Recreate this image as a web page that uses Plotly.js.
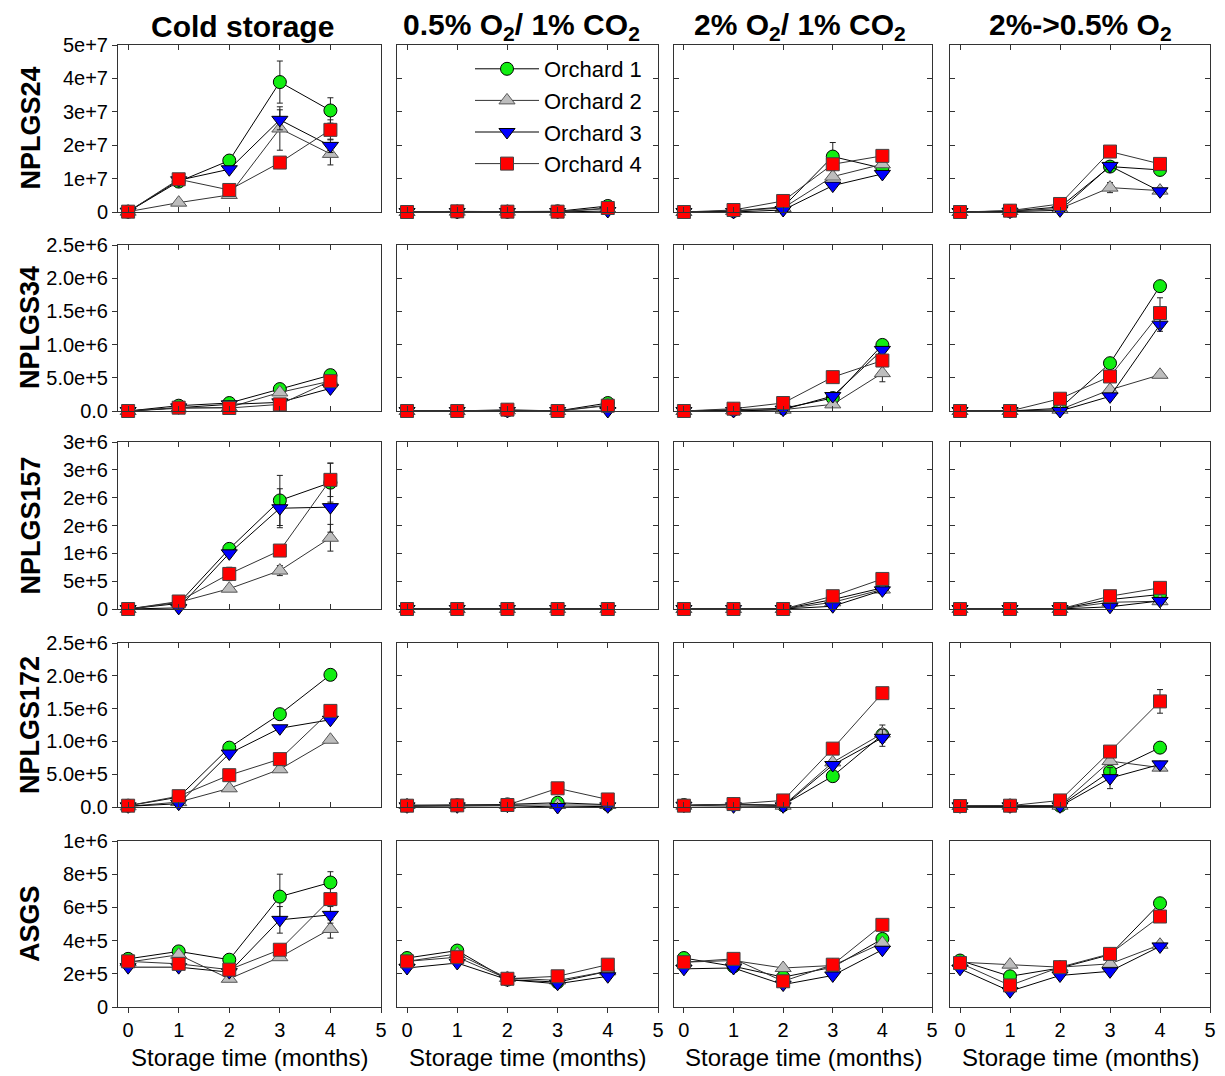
<!DOCTYPE html>
<html>
<head>
<meta charset="utf-8">
<script src="https://cdn.plot.ly/plotly-3.0.1.min.js"></script>
<style>html,body{margin:0;padding:0;background:#fff;}#chart{width:1225px;height:1076px;}</style>
</head>
<body>
<div id="chart"></div>
<script>
// ---------- DATA ----------
const months = [0, 1, 2, 3, 4];
const orchards = ['Orchard 1', 'Orchard 2', 'Orchard 3', 'Orchard 4'];
const treatments = ['<b>Cold storage</b>', '<b>0.5% O<sub>2</sub>/ 1% CO<sub>2</sub></b>', '<b>2% O<sub>2</sub>/ 1% CO<sub>2</sub></b>', '<b>2%->0.5% O<sub>2</sub></b>'];
const genes = ['NPLGS24', 'NPLGS34', 'NPLGS157', 'NPLGS172', 'ASGS'];
const xTickLabels = ['0', '1', '2', '3', '4', '5'];

// y tick values/labels per gene row
const yTicks24 = [0, 1e7, 2e7, 3e7, 4e7, 5e7];
const yText24 = ['0', '1e+7', '2e+7', '3e+7', '4e+7', '5e+7'];
const yTicks34 = [0, 5e5, 1e6, 1.5e6, 2e6, 2.5e6];
const yText34 = ['0.0', '5.0e+5', '1.0e+6', '1.5e+6', '2.0e+6', '2.5e+6'];
const yTicks157 = [0, 5e5, 1e6, 1.5e6, 2e6, 2.5e6, 3e6];
const yText157 = ['0', '5e+5', '1e+6', '2e+6', '2e+6', '3e+6', '3e+6'];
const yTicks172 = [0, 5e5, 1e6, 1.5e6, 2e6, 2.5e6];
const yText172 = ['0.0', '5.0e+5', '1.0e+6', '1.5e+6', '2.0e+6', '2.5e+6'];
const yTicksASGS = [0, 2e5, 4e5, 6e5, 8e5, 1e6];
const yTextASGS = ['0', '2e+5', '4e+5', '6e+5', '8e+5', '1e+6'];

// values: each array = [Orchard1, Orchard2, Orchard3, Orchard4]
const nplgs24_cold = [[1e5, 9.1e6, 1.54e7, 3.89e7, 3.04e7], [1e5, 2.8e6, 5.1e6, 2.5e7, 1.74e7], [1e5, 9.5e6, 1.28e7, 2.76e7, 1.98e7], [1e5, 9.8e6, 6.6e6, 1.48e7, 2.46e7]];
const nplgs24_cold_err = [[0, 0, 8e5, 6.3e6, 3.8e6], [0, 0, 5e5, 6.5e6, 3.3e6], [0, 0, 0, 3e6, 2e6], [0, 0, 1e6, 0, 3e6]];
const nplgs24_low = [[0, 1e5, 1e5, 2e5, 1.8e6], [0, 1e5, 1e5, 1e5, 1.0e6], [0, 0, 0, 0, 3e5], [0, 2e5, 1e5, 1e5, 1.2e6]];
const nplgs24_mid = [[0, 3e5, 1.5e6, 1.66e7, 1.31e7], [0, 3e5, 1.2e6, 1.06e7, 1.43e7], [0, 0, 6e5, 7.9e6, 1.14e7], [0, 6e5, 3.3e6, 1.43e7, 1.68e7]];
const nplgs24_mid_err = [[0, 0, 0, 4.2e6, 0], [0, 0, 0, 0, 1e6], [0, 0, 0, 0, 0], [0, 0, 0, 0, 0]];
const nplgs24_step = [[0, 3e5, 1.5e6, 1.36e7, 1.26e7], [0, 3e5, 1e6, 7.3e6, 6.4e6], [0, 1e5, 5e5, 1.38e7, 6.2e6], [0, 4e5, 2.4e6, 1.81e7, 1.44e7]];
const nplgs24_step_err = [[0, 0, 0, 0, 0], [0, 0, 0, 1.5e6, 8e5], [0, 0, 0, 0, 0], [0, 0, 0, 0, 1.5e6]];

const nplgs34_cold = [[0, 8e4, 1.2e5, 3.3e5, 5.4e5], [0, 4e4, 5.5e4, 2.8e5, 4.5e5], [0, 5.5e4, 1.0e5, 1.3e5, 3.4e5], [0, 5e4, 4.5e4, 1.0e5, 4.5e5]];
const nplgs34_low = [[0, 0, 1e4, 0, 1.2e5], [0, 0, 1e4, 0, 9e4], [0, 0, 0, 0, 0], [0, 0, 2e4, 0, 8e4]];
const nplgs34_mid = [[0, 2e4, 4e4, 1.95e5, 9.95e5], [0, 1e4, 2e4, 1.0e5, 5.7e5], [0, 0, 2e4, 2.25e5, 9.2e5], [0, 3.5e4, 1.2e5, 5.1e5, 7.6e5]];
const nplgs34_mid_err = [[0, 0, 0, 0, 0], [0, 0, 0, 0, 1.3e5], [0, 0, 0, 0, 0], [0, 0, 0, 0, 0]];
const nplgs34_step = [[0, 0, 4e4, 7.2e5, 1.88e6], [0, 0, 2e4, 3.2e5, 5.45e5], [0, 0, 0, 2.2e5, 1.3e6], [0, 0, 1.85e5, 5.2e5, 1.475e6]];
const nplgs34_step_err = [[0, 0, 0, 0, 0], [0, 0, 0, 0, 0], [0, 0, 0, 0, 1e5], [0, 0, 0, 0, 2.3e5]];

const nplgs157_cold = [[0, 1e5, 1.08e6, 1.95e6, 2.27e6], [0, 1.2e5, 3.65e5, 6.9e5, 1.28e6], [0, 2e4, 1.0e6, 1.81e6, 1.83e6], [0, 1.35e5, 6.3e5, 1.05e6, 2.32e6]];
const nplgs157_cold_err = [[0, 0, 0, 4.5e5, 3.5e5], [0, 0, 0, 9e4, 2.4e5], [0, 0, 0, 3.5e5, 4.5e5], [0, 0, 1.2e5, 0, 3e5]];
const nplgs157_low = [[0, 0, 0, 0, 0], [0, 0, 0, 0, 0], [0, 0, 0, 0, 0], [0, 0, 0, 0, 0]];
const nplgs157_mid = [[0, 0, 0, 1.7e5, 3.8e5], [0, 0, 0, 1.2e5, 3.5e5], [0, 0, 0, 5e4, 3.35e5], [0, 0, 0, 2.3e5, 5.4e5]];
const nplgs157_step = [[0, 0, 0, 1.7e5, 2.6e5], [0, 0, 0, 1.2e5, 1.4e5], [0, 0, 0, 4e4, 1.45e5], [0, 0, 0, 2.3e5, 3.8e5]];

const nplgs172_cold = [[2e4, 1.5e5, 9.05e5, 1.415e6, 2.015e6], [1e4, 7.5e4, 2.85e5, 5.75e5, 1.025e6], [1e4, 5e4, 8.15e5, 1.2e6, 1.33e6], [2e4, 1.65e5, 4.85e5, 7.3e5, 1.465e6]];
const nplgs172_low = [[2e4, 2.5e4, 4e4, 6.5e4, 3.5e4], [3e4, 3e4, 3e4, 3e4, 3e4], [1e4, 1e4, 2e4, 0, 1e4], [2e4, 2.5e4, 3e4, 2.85e5, 1.15e5]];
const nplgs172_mid = [[3e4, 4e4, 3e4, 4.7e5, 1.1e6], [2e4, 4e4, 2e4, 6.8e5, 1.12e6], [2e4, 1e4, 1e4, 6.4e5, 1.055e6], [2e4, 4.5e4, 1e5, 8.9e5, 1.735e6]];
const nplgs172_mid_err = [[0, 0, 0, 0, 0], [0, 0, 0, 0, 1.3e5], [0, 0, 0, 0, 1.3e5], [0, 0, 0, 0, 5e4]];
const nplgs172_step = [[1.5e4, 2e4, 2e4, 5.4e5, 9.05e5], [1.5e4, 2e4, 2e4, 7e5, 6.0e5], [1e4, 1e4, 1e4, 4.4e5, 6.5e5], [1.5e4, 2e4, 1e5, 8.45e5, 1.61e6]];
const nplgs172_step_err = [[0, 0, 0, 0, 0], [0, 0, 0, 0, 0], [0, 0, 0, 1.6e5, 0], [0, 0, 0, 0, 1.8e5]];

const asgs_cold = [[2.9e5, 3.35e5, 2.85e5, 6.65e5, 7.5e5], [2.7e5, 3.15e5, 1.7e5, 3.0e5, 4.7e5], [2.4e5, 2.4e5, 2.1e5, 5.25e5, 5.55e5], [2.75e5, 2.6e5, 2.25e5, 3.45e5, 6.5e5]];
const asgs_cold_err = [[0, 0, 0, 1.35e5, 6.5e4], [0, 0, 0, 0, 5.5e4], [0, 0, 0, 8e4, 5e4], [0, 0, 0, 0, 0]];
const asgs_low = [[2.95e5, 3.4e5, 1.65e5, 1.5e5, 2.15e5], [2.75e5, 3.2e5, 1.75e5, 1.6e5, 2.15e5], [2.35e5, 2.65e5, 1.65e5, 1.4e5, 1.85e5], [2.75e5, 3.0e5, 1.7e5, 1.85e5, 2.55e5]];
const asgs_mid = [[2.95e5, 2.45e5, 1.8e5, 2.4e5, 4.1e5], [2.7e5, 2.8e5, 2.35e5, 2.5e5, 3.85e5], [2.3e5, 2.35e5, 1.35e5, 1.9e5, 3.45e5], [2.7e5, 2.9e5, 1.55e5, 2.55e5, 4.95e5]];
const asgs_step = [[2.8e5, 1.85e5, 2.35e5, 3.15e5, 6.25e5], [2.7e5, 2.55e5, 2.4e5, 2.6e5, 3.75e5], [2.3e5, 0.95e5, 1.9e5, 2.15e5, 3.65e5], [2.65e5, 1.3e5, 2.4e5, 3.2e5, 5.45e5]];

// ---------- BUILD ----------
const panelValues = [
  [nplgs24_cold, nplgs24_low, nplgs24_mid, nplgs24_step],
  [nplgs34_cold, nplgs34_low, nplgs34_mid, nplgs34_step],
  [nplgs157_cold, nplgs157_low, nplgs157_mid, nplgs157_step],
  [nplgs172_cold, nplgs172_low, nplgs172_mid, nplgs172_step],
  [asgs_cold, asgs_low, asgs_mid, asgs_step]
];
const panelErrors = [
  [nplgs24_cold_err, null, nplgs24_mid_err, nplgs24_step_err],
  [null, null, nplgs34_mid_err, nplgs34_step_err],
  [nplgs157_cold_err, null, null, null],
  [null, null, nplgs172_mid_err, nplgs172_step_err],
  [asgs_cold_err, null, null, null]
];
const rowTicks = [[yTicks24, yText24], [yTicks34, yText34], [yTicks157, yText157], [yTicks172, yText172], [yTicksASGS, yTextASGS]];

const W = 1225, H = 1076;
const colPx = [[118, 381], [397, 658], [674, 932], [950, 1210]];
const rowPx = [[45, 212], [245, 411], [442, 609], [643, 807], [841, 1007]];

const styles = [
  {symbol: 'circle', color: '#11ee11', line: '#000000', size: 13, lc: '#000000'},
  {symbol: 'triangle-up', color: '#bdbdbd', line: '#555555', size: 14, lc: '#333333'},
  {symbol: 'triangle-down', color: '#0000ff', line: '#000000', size: 14, lc: '#000000'},
  {symbol: 'square', color: '#ff0000', line: '#444444', size: 13, lc: '#333333'}
];

const FONT = 'Liberation Sans, Arial, sans-serif';
const traces = [];
const layout = {
  width: W, height: H,
  margin: {l: 0, r: 0, t: 0, b: 0},
  paper_bgcolor: '#ffffff', plot_bgcolor: '#ffffff',
  font: {family: FONT, color: '#000'},
  showlegend: true,
  legend: {
    x: 470 / W, y: 1 - 48 / H, xanchor: 'left', yanchor: 'top',
    font: {size: 22, family: FONT, color: '#000'},
    bgcolor: 'rgba(255,255,255,0)', itemwidth: 64, tracegroupgap: 0
  },
  annotations: []
};

for (let r = 0; r < 5; r++) {
  for (let c = 0; c < 4; c++) {
    const n = r * 4 + c + 1;
    const xs = n === 1 ? 'x' : 'x' + n;
    const ys = n === 1 ? 'y' : 'y' + n;
    const vals = panelValues[r][c];
    const errs = panelErrors[r][c];
    for (let k = 0; k < 4; k++) {
      const st = styles[k];
      const tr = {
        type: 'scatter', mode: 'lines+markers',
        x: months, y: vals[k], xaxis: xs, yaxis: ys,
        name: orchards[k], legendgroup: orchards[k],
        showlegend: (r === 0 && c === 1),
        cliponaxis: false,
        line: {color: st.lc, width: 1},
        marker: {symbol: st.symbol, size: st.size, color: st.color, line: {color: st.line, width: 1}}
      };
      if (errs) {
        tr.error_y = {type: 'data', array: errs[k], visible: true, color: '#222', thickness: 1, width: 3};
      }
      traces.push(tr);
    }
    const xk = n === 1 ? 'xaxis' : 'xaxis' + n;
    const yk = n === 1 ? 'yaxis' : 'yaxis' + n;
    const bottom = r === 4;
    layout[xk] = {
      domain: [colPx[c][0] / W, colPx[c][1] / W],
      anchor: ys, range: [-0.2, 5],
      tickvals: [0, 1, 2, 3, 4, 5], ticktext: xTickLabels,
      showticklabels: bottom,
      ticks: bottom ? 'outside' : 'inside', ticklen: 5, tickcolor: '#333',
      mirror: bottom ? true : 'ticks',
      showline: true, linecolor: '#333', linewidth: 1,
      showgrid: false, zeroline: false,
      tickfont: {size: 20, family: FONT, color: '#000'}
    };
    const tk = rowTicks[r];
    const ymax = tk[0][tk[0].length - 1];
    layout[yk] = {
      domain: [1 - rowPx[r][1] / H, 1 - rowPx[r][0] / H],
      anchor: xs, range: [0, ymax],
      tickvals: tk[0], ticktext: tk[1],
      showticklabels: c === 0,
      ticks: c === 0 ? 'outside' : 'inside', ticklen: 5, tickcolor: '#333',
      mirror: c === 0 ? true : 'ticks',
      showline: true, linecolor: '#333', linewidth: 1,
      showgrid: false, zeroline: false,
      tickfont: {size: 20, family: FONT, color: '#000'}
    };
  }
}

// column titles
const titleX = [242, 521, 800, 1080];
for (let c = 0; c < 4; c++) {
  layout.annotations.push({
    xref: 'paper', yref: 'paper', x: titleX[c] / W, y: 1 - 26 / H,
    text: treatments[c], showarrow: false, xanchor: 'center', yanchor: 'middle',
    font: {size: 30, family: FONT, color: '#000'}
  });
  layout.annotations.push({
    xref: 'paper', yref: 'paper', x: ((colPx[c][0] + colPx[c][1]) / 2) / W, y: 1 - 1057 / H,
    text: 'Storage time (months)', showarrow: false, xanchor: 'center', yanchor: 'middle',
    font: {size: 24, family: FONT, color: '#000'}
  });
}
// row labels
for (let r = 0; r < 5; r++) {
  layout.annotations.push({
    xref: 'paper', yref: 'paper', x: 30 / W, y: 1 - ((rowPx[r][0] + rowPx[r][1]) / 2) / H,
    text: '<b>' + genes[r] + '</b>', showarrow: false, textangle: -90,
    xanchor: 'center', yanchor: 'middle',
    font: {size: 27, family: FONT, color: '#000'}
  });
}

Plotly.newPlot('chart', traces, layout, {staticPlot: true, displayModeBar: false});
</script>
</body>
</html>
